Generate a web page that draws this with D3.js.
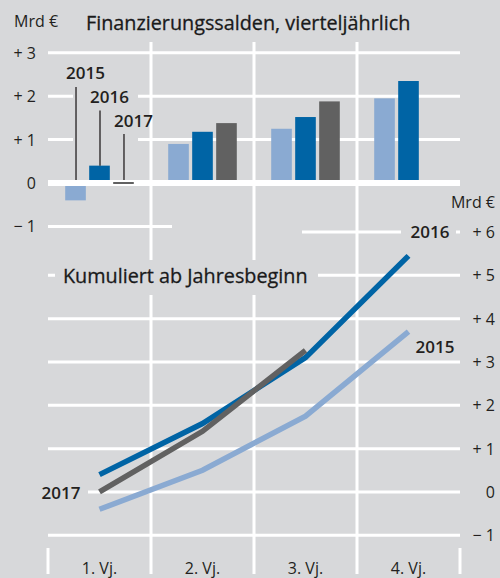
<!DOCTYPE html>
<html>
<head>
<meta charset="utf-8">
<script src="https://cdn.jsdelivr.net/npm/d3@7/dist/d3.min.js"></script>
<style>
    body { margin: 0; background: #d7d8da; }
    text { font-family: "Open Sans", sans-serif; fill: #231f20; }
</style>
</head>
<body>
<svg id="chart" width="500" height="578"></svg>
<script>
/*global d3*/

// quarters and years
var quarters = ["1. Vj.", "2. Vj.", "3. Vj.", "4. Vj."];
var years = ["2015", "2016", "2017"];

// Finanzierungssalden, vierteljährlich (Mrd €)
var quarterly2015 = [-0.4, 0.9, 1.25, 1.95];
var quarterly2016 = [0.4, 1.18, 1.52, 2.35];
var quarterly2017 = [0.02, 1.38, 1.88];

// Kumuliert ab Jahresbeginn (Mrd €)
var cumulated2015 = [-0.4, 0.5, 1.75, 3.7];
var cumulated2016 = [0.4, 1.58, 3.1, 5.45];
var cumulated2017 = [0.0, 1.4, 3.27];

var topTicks = [-1, 0, 1, 2, 3];
var bottomTicks = [-1, 0, 1, 2, 3, 4, 5, 6];

var colors = {"2015": "#8aaad2", "2016": "#0064a5", "2017": "#616161"};
var bg = "#d7d8da";

var svg = d3.select("#chart");
svg.append("rect").attr("width", 500).attr("height", 578).attr("fill", bg);

var x = d3.scaleBand().domain(quarters).range([48, 460]);
var xYear = d3.scaleBand().domain(years).range([17.2, 85.8]).paddingInner(0.14);
var yTop = d3.scaleLinear().domain([-1, 3]).range([226.4, 52.8]);
var yBot = d3.scaleLinear().domain([-1, 6]).range([535.3, 232]);

function qx(q) {
    return x(q) + x.bandwidth() / 2;
}
function fmt(v) {
    if (v > 0) return "+ " + v;
    if (v < 0) return "\u2212 " + Math.abs(v);
    return "0";
}

var grid = svg.append("g").attr("stroke", "#fff").attr("stroke-width", 3);

// top chart grid (the -1 line stops short)
grid.selectAll("line.top")
    .data(topTicks.filter(function (d) { return d !== 0; }))
    .enter().append("line")
    .attr("x1", 48)
    .attr("x2", function (d) { return d === -1 ? 172 : 460; })
    .attr("y1", yTop).attr("y2", yTop);

// bottom chart grid (the +6 line starts late)
grid.selectAll("line.bot")
    .data(bottomTicks)
    .enter().append("line")
    .attr("x1", function (d) { return d === 6 ? 302 : 48; })
    .attr("x2", 460)
    .attr("y1", yBot).attr("y2", yBot);

// label boxes that break the grid
function box(x0, y0, x1, y1) {
    svg.append("rect").attr("x", x0).attr("y", y0)
        .attr("width", x1 - x0).attr("height", y1 - y0).attr("fill", bg);
}
box(73, 62, 138, 176);
box(401, 222, 456, 243);
box(36, 482, 88, 503);

// vertical separators
var vgrid = svg.append("g").attr("stroke", "#fff").attr("stroke-width", 3);
vgrid.selectAll("line")
    .data(quarters.slice(1))
    .enter().append("line")
    .attr("x1", x).attr("x2", x)
    .attr("y1", 42).attr("y2", 574);
vgrid.selectAll("line.edge")
    .data(x.range())
    .enter().append("line")
    .attr("x1", function (d) { return d; }).attr("x2", function (d) { return d; })
    .attr("y1", 548).attr("y2", 574);

// title box for the cumulative chart cuts the verticals
box(55, 260, 318, 295);

// bars
var barData = [];
years.forEach(function (yr) {
    var vals = {"2015": quarterly2015, "2016": quarterly2016, "2017": quarterly2017}[yr];
    vals.forEach(function (v, i) {
        barData.push({year: yr, q: quarters[i], v: v});
    });
});

svg.append("g").selectAll("rect")
    .data(barData)
    .enter().append("rect")
    .attr("x", function (d) { return x(d.q) + xYear(d.year); })
    .attr("width", xYear.bandwidth())
    .attr("y", function (d) { return Math.min(yTop(d.v), yTop(0)); })
    .attr("height", function (d) { return Math.abs(yTop(d.v) - yTop(0)); })
    .attr("fill", function (d) { return colors[d.year]; });

svg.append("line")
    .attr("x1", 48).attr("x2", 460)
    .attr("y1", yTop(0)).attr("y2", yTop(0))
    .attr("stroke", "#fff").attr("stroke-width", 6);

// near-zero values shown as a thin mark on the zero line
svg.append("g").selectAll("rect")
    .data(barData.filter(function (d) { return Math.abs(d.v) < 0.1; }))
    .enter().append("rect")
    .attr("x", function (d) { return x(d.q) + xYear(d.year); })
    .attr("width", xYear.bandwidth())
    .attr("y", yTop(0) - 1)
    .attr("height", 2)
    .attr("fill", function (d) { return colors[d.year]; });

// leader lines and year labels in the first quarter
var firstQ = barData.filter(function (d) { return d.q === quarters[0]; });
var leaders = svg.append("g");
leaders.selectAll("line")
    .data(firstQ)
    .enter().append("line")
    .attr("x1", function (d) { return x(d.q) + xYear(d.year) + xYear.bandwidth() / 2 + 0.5; })
    .attr("x2", function (d) { return x(d.q) + xYear(d.year) + xYear.bandwidth() / 2 + 0.5; })
    .attr("y1", function (d, i) { return 87 + i * 23.5; })
    .attr("y2", function (d) { return Math.min(yTop(d.v), yTop(0) - 3); })
    .attr("stroke", "#231f20").attr("stroke-width", 1.3);
leaders.selectAll("text")
    .data(firstQ)
    .enter().append("text")
    .attr("x", function (d) { return x(d.q) + xYear(d.year) + xYear.bandwidth() / 2 + 10; })
    .attr("y", function (d, i) { return 79 + i * 24; })
    .attr("text-anchor", "middle")
    .style("font-size", "17px").style("font-weight", 600)
    .text(function (d) { return d.year; });

// cumulative lines
var lineData = [
    {year: "2015", vals: cumulated2015},
    {year: "2016", vals: cumulated2016},
    {year: "2017", vals: cumulated2017}
];
var line = d3.line()
    .x(function (d, i) { return qx(quarters[i]); })
    .y(function (d) { return yBot(d); });
svg.append("g").selectAll("path")
    .data(lineData)
    .enter().append("path")
    .attr("d", function (d) { return line(d.vals); })
    .attr("fill", "none")
    .attr("stroke", function (d) { return colors[d.year]; })
    .attr("stroke-width", 5.5);

// line labels
var last16 = cumulated2016.length - 1, last15 = cumulated2015.length - 1;
svg.append("text")
    .attr("x", qx(quarters[last16]) + 41).attr("y", yBot(cumulated2016[last16]) - 18)
    .attr("text-anchor", "end")
    .style("font-size", "17px").style("font-weight", 600)
    .text("2016");
svg.append("text")
    .attr("x", qx(quarters[last15]) + 46).attr("y", yBot(cumulated2015[last15]) + 21)
    .attr("text-anchor", "end")
    .style("font-size", "17px").style("font-weight", 600)
    .text("2015");
svg.append("text")
    .attr("x", qx(quarters[0]) - 19).attr("y", yBot(cumulated2017[0]) + 7)
    .attr("text-anchor", "end")
    .style("font-size", "17px").style("font-weight", 600)
    .text("2017");

// axis labels
svg.append("g").selectAll("text")
    .data(topTicks)
    .enter().append("text")
    .attr("x", 36).attr("y", function (d) { return yTop(d) + 6; })
    .attr("text-anchor", "end")
    .style("font-size", "16px")
    .text(fmt);
svg.append("g").selectAll("text")
    .data(bottomTicks)
    .enter().append("text")
    .attr("x", 495).attr("y", function (d) { return yBot(d) + 6; })
    .attr("text-anchor", "end")
    .style("font-size", "16px")
    .text(fmt);
svg.append("g").selectAll("text")
    .data(quarters)
    .enter().append("text")
    .attr("x", qx).attr("y", 574)
    .attr("text-anchor", "middle")
    .style("font-size", "16px")
    .text(function (d) { return d; });

svg.append("text").attr("x", 14).attr("y", 27).style("font-size", "16px").text("Mrd €");
svg.append("text").attr("x", 495).attr("y", 208).attr("text-anchor", "end")
    .style("font-size", "16px").text("Mrd €");

// titles
svg.append("text").attr("x", 86).attr("y", 30)
    .style("font-size", "19.8px").style("fill", "#1a1a1a")
    .style("stroke", "#1a1a1a").style("stroke-width", 0.3)
    .text("Finanzierungssalden, vierteljährlich");
svg.append("text").attr("x", 63).attr("y", 283)
    .style("font-size", "19.8px").style("fill", "#1a1a1a")
    .style("stroke", "#1a1a1a").style("stroke-width", 0.3)
    .text("Kumuliert ab Jahresbeginn");
</script>
</body>
</html>
